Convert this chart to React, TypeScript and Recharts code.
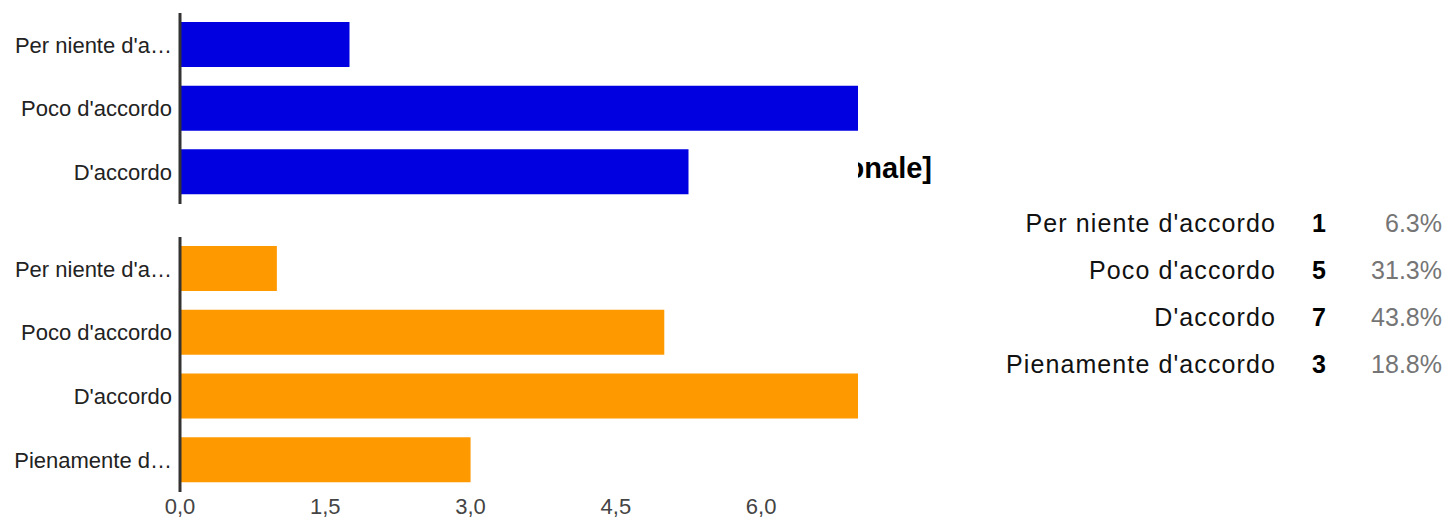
import React from "react";
import { BarChart, Bar, XAxis, YAxis } from "recharts";

const FONT = "'Liberation Sans', Arial, sans-serif";

// top (partially visible) question
const topCategories = ["Per niente d'accordo", "Poco d'accordo", "D'accordo"];
const topTickLabels = ["Per niente d'a…", "Poco d'accordo", "D'accordo"];
const topValues = [1, 4, 3];

// bottom question
const categories = ["Per niente d'accordo", "Poco d'accordo", "D'accordo", "Pienamente d'accordo"];
const tickLabels = ["Per niente d'a…", "Poco d'accordo", "D'accordo", "Pienamente d…"];
const counts = [1, 5, 7, 3];
const percents = ["6.3%", "31.3%", "43.8%", "18.8%"];
const xTicks = [0, 1.5, 3, 4.5, 6];

const titleTail = "onale]";

const topData = topCategories.map((c, i) => ({ name: c, short: topTickLabels[i], value: topValues[i] }));
const bottomData = categories.map((c, i) => ({ name: c, short: tickLabels[i], value: counts[i] }));

const tickStyle = { fill: "#222", fontSize: 22, fontFamily: FONT };

export default function App() {
  return (
    <div style={{ position: "absolute", left: 0, top: 0, width: 1448, height: 520, background: "#fff", fontFamily: FONT, overflow: "hidden" }}>
      {/* title, mostly hidden behind the top chart */}
      <div style={{ position: "absolute", left: 700, top: 150, width: 232, textAlign: "right", fontSize: 29, fontWeight: "bold", color: "#000", lineHeight: "36px" }}>
        {titleTail}
      </div>

      <div style={{ position: "absolute", left: 0, top: 0, width: 858, height: 206, background: "#fff", overflow: "hidden" }}>
        <BarChart width={860} height={206} data={topData} layout="vertical" margin={{ top: 13, right: 2, bottom: 2, left: 0 }}>
          <XAxis type="number" domain={[0, 4]} hide />
          <YAxis
            type="category"
            dataKey="name"
            width={180}
            tickFormatter={(v: string) => topTickLabels[topCategories.indexOf(v)]}
            tick={tickStyle}
            tickLine={false}
            tickSize={0}
            tickMargin={8}
            axisLine={{ stroke: "#333", strokeWidth: 3 }}
          />
          <Bar dataKey="value" fill="#0000e0" barSize={45} isAnimationActive={false} />
        </BarChart>
      </div>

      <div style={{ position: "absolute", left: 0, top: 230, width: 860, height: 290 }}>
        <BarChart width={860} height={290} data={bottomData} layout="vertical" margin={{ top: 7, right: 2, bottom: 0, left: 0 }}>
          <XAxis
            type="number"
            domain={[0, 7]}
            ticks={xTicks}
            tickFormatter={(v: number) => v.toFixed(1).replace(".", ",")}
            axisLine={false}
            tickLine={false}
            tickSize={0}
            tickMargin={6}
            height={28}
            tick={{ fill: "#444", fontSize: 22, fontFamily: FONT }}
          />
          <YAxis
            type="category"
            dataKey="name"
            width={180}
            tickFormatter={(v: string) => tickLabels[categories.indexOf(v)]}
            tick={tickStyle}
            tickLine={false}
            tickSize={0}
            tickMargin={8}
            axisLine={{ stroke: "#333", strokeWidth: 3 }}
          />
          <Bar dataKey="value" fill="#ff9900" barSize={45} isAnimationActive={false} />
        </BarChart>
      </div>

      {/* summary table */}
      {categories.map((c, i) => (
        <div key={c} style={{ position: "absolute", left: 0, top: 206 + i * 47, width: 1448, height: 34, fontSize: 25, lineHeight: "34px" }}>
          <span style={{ position: "absolute", right: 1448 - 1276, color: "#111", letterSpacing: 1.1, whiteSpace: "nowrap" }}>{c}</span>
          <span style={{ position: "absolute", left: 1312, color: "#000", fontWeight: "bold" }}>{counts[i]}</span>
          <span style={{ position: "absolute", right: 1448 - 1442, color: "#757575" }}>{percents[i]}</span>
        </div>
      ))}
    </div>
  );
}
